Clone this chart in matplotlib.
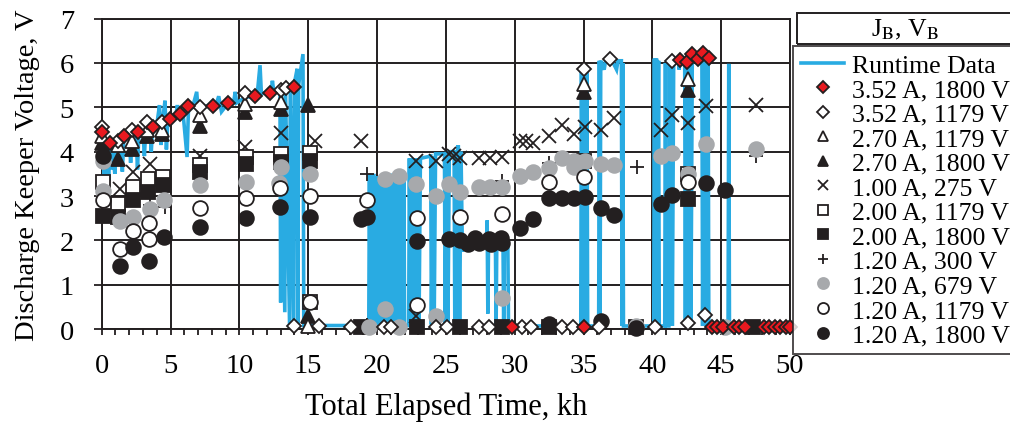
import matplotlib
matplotlib.use("Agg")
import matplotlib.pyplot as plt
from matplotlib.patches import Rectangle
from matplotlib.ticker import MultipleLocator

plt.rcParams["font.family"] = ["Liberation Serif", "DejaVu Serif"]
plt.rcParams["mathtext.fontset"] = "stix"

BLUE = "#29abe2"
RED = "#e8191f"
GRAY = "#a7a9ac"
INK = "#231f20"

# ---- runtime trace (kh, V) in pieces ----
rt_early = [
    (0.0, 4.3), (0.1, 3.4), (0.2, 4.2), (0.3, 3.3), (0.4, 4.1), (0.5, 3.35), (0.6, 4.15),
    (0.7, 3.6), (0.8, 4.05), (0.95, 3.5), (1.05, 4.1), (1.2, 4.2), (1.4, 4.25), (1.5, 3.55),
    (1.6, 4.25), (1.8, 4.3), (2.0, 4.35), (2.1, 3.75), (2.2, 4.35), (2.5, 4.4), (2.6, 3.6),
    (2.7, 4.45), (3.0, 4.45), (3.1, 3.9), (3.2, 4.5), (3.5, 4.55), (3.6, 4.0), (3.7, 4.55),
    (4.0, 4.6), (4.2, 5.05), (4.3, 4.15), (4.4, 4.65), (4.6, 5.15), (4.7, 4.05), (4.8, 4.7),
    (5.0, 4.75), (5.4, 4.85), (5.5, 5.05), (5.6, 4.85), (5.9, 4.9), (6.2, 3.88), (6.3, 4.95),
    (6.6, 5.0), (6.9, 5.35), (7.0, 4.95), (7.4, 5.0), (7.8, 5.05), (8.3, 5.05), (8.5, 5.25),
    (8.7, 4.9), (9.2, 5.1), (9.6, 5.15), (9.7, 5.35), (9.8, 5.1), (10.3, 5.2), (10.8, 5.25),
    (11.3, 5.3), (11.5, 5.95), (11.6, 5.3), (12.0, 5.35), (12.3, 5.3), (12.4, 5.6),
    (12.5, 5.35), (12.95, 5.35),
]
rt_drop = [
    (13.0, 0.6), (13.05, 5.35), (13.3, 0.38), (13.35, 5.4), (13.65, 0.05), (13.7, 5.45),
    (13.95, 0.05), (14.0, 5.55), (14.2, 5.87), (14.25, 0.05), (14.3, 5.5), (14.62, 6.2),
    (14.68, 0.08), (15.0, 0.08), (19.4, 0.08),
]
rt_mid = [
    (19.45, 3.5), (19.5, 0.1), (19.55, 3.5), (19.65, 0.1), (19.75, 3.5), (19.85, 0.1),
    (19.95, 3.45), (20.05, 0.1), (20.15, 3.45), (20.25, 0.1), (20.35, 3.45), (20.45, 0.1),
    (20.55, 3.45), (20.65, 0.1), (20.75, 3.5), (20.85, 0.1), (20.95, 3.5), (21.05, 0.1),
    (21.15, 3.5), (21.25, 0.1), (21.35, 3.5), (21.45, 0.1), (21.55, 3.5), (21.65, 0.1),
    (21.75, 3.45), (21.85, 0.1), (21.95, 3.45), (22.0, 0.08), (22.3, 0.08),
    (22.35, 3.85), (22.45, 0.1), (22.55, 3.85), (22.65, 0.1), (22.75, 3.85), (22.85, 0.1),
    (22.95, 3.85), (23.05, 0.1), (23.15, 3.85), (23.9, 3.9), (23.95, 0.1), (24.05, 3.9),
    (24.15, 0.1), (24.25, 3.95), (24.9, 3.95), (24.95, 0.1), (25.05, 4.0), (25.15, 0.1),
    (25.25, 4.0), (25.6, 4.0), (25.65, 0.1), (25.75, 4.0), (25.85, 0.1), (25.9, 4.15),
    (26.0, 0.1), (26.1, 4.0), (26.2, 1.75), (26.3, 1.9), (27.0, 1.95), (27.95, 2.0),
    (28.0, 2.45), (28.05, 0.35), (28.1, 2.0), (28.6, 1.95), (28.65, 0.05), (28.7, 2.0),
    (29.15, 2.0), (29.2, 0.05), (29.25, 1.95), (29.5, 1.95), (29.55, 0.07),
]
rt_late = [
    (34.8, 0.07), (34.85, 5.85), (34.95, 0.07), (35.05, 5.85), (35.15, 0.07), (35.25, 5.85),
    (35.3, 0.07), (36.1, 0.07), (36.15, 6.05), (36.2, 0.07), (36.25, 6.05), (36.3, 6.0),
    (36.5, 5.85), (36.6, 6.05), (37.0, 6.1), (37.4, 5.85), (37.5, 6.05), (37.75, 6.05),
    (37.8, 0.07), (37.85, 6.0), (37.9, 0.07), (40.1, 0.07), (40.15, 6.1), (40.2, 0.07),
    (40.3, 6.1), (40.35, 0.07), (40.45, 6.05), (40.5, 0.07), (40.9, 0.07), (40.95, 6.0),
    (41.0, 0.07), (41.2, 0.07), (41.25, 6.05), (41.3, 0.07), (41.4, 6.05), (41.45, 0.07),
    (41.55, 6.1), (41.9, 6.05), (41.95, 5.85), (42.0, 6.1), (42.35, 6.05), (42.4, 0.07),
    (42.45, 6.1), (42.5, 0.07), (42.6, 6.05), (42.65, 0.07), (42.75, 6.1), (42.8, 0.07),
    (42.9, 6.1), (43.0, 6.05), (43.6, 6.05), (43.65, 0.07), (43.75, 6.1), (43.8, 0.07),
    (43.9, 6.1), (43.95, 0.07), (44.05, 6.1), (44.1, 0.07), (45.5, 0.07), (45.55, 5.98),
    (45.6, 0.07), (50.0, 0.07),
]

# ---- measured points (kh, V) for each beam current / voltage ----
d352_1800 = [
    (0.0, 4.44), (0.6, 4.2), (1.6, 4.36), (2.65, 4.44), (3.74, 4.56), (4.95, 4.74),
    (5.67, 4.85), (6.25, 5.02), (8.09, 5.02), (9.17, 5.1), (11.15, 5.25), (12.2, 5.32),
    (14.0, 5.45), (29.8, 0.05), (35.0, 0.05), (42.0, 6.06), (42.5, 6.02), (42.9, 6.2),
    (43.3, 6.08), (43.7, 6.23), (44.1, 6.12), (44.3, 0.05), (44.7, 0.05), (45.1, 0.05),
    (45.9, 0.05), (46.3, 0.05), (46.7, 0.05), (48.1, 0.05), (48.5, 0.05), (48.9, 0.05),
    (49.3, 0.05), (49.7, 0.05), (50.0, 0.05),
]
d352_1179 = [
    (0.0, 4.55), (1.2, 4.23), (2.17, 4.48), (3.26, 4.68), (4.35, 4.67), (7.12, 5.0),
    (10.4, 5.33), (13.0, 5.38), (13.4, 5.43), (14.0, 0.06), (15.8, 0.06), (18.1, 0.04),
    (20.5, 0.04), (21.0, 0.04), (24.3, 0.04), (25.1, 0.04), (27.4, 0.04), (28.1, 0.04),
    (30.5, 0.04), (31.2, 0.04), (33.4, 0.04), (34.2, 0.04), (35.0, 5.87), (36.1, 0.04),
    (36.9, 6.09), (40.2, 0.04), (41.4, 6.04), (42.6, 0.14), (43.8, 0.32),
]
d270_1179 = [
    (0.0, 4.35), (1.2, 4.14), (2.17, 4.25), (3.26, 4.48), (4.35, 4.48), (7.12, 4.82),
    (10.4, 5.08), (13.0, 5.13), (15.0, 0.06), (35.0, 5.53), (42.6, 5.64),
]
d270_1800 = [
    (0.0, 4.2), (1.2, 3.84), (2.17, 4.06), (3.26, 4.36), (4.35, 4.4), (7.12, 4.59),
    (10.4, 4.89), (13.0, 4.97), (15.0, 5.06), (15.0, 0.3), (35.0, 5.34), (42.6, 5.38),
]
d100_275 = [
    (1.33, 3.16), (2.29, 3.54), (3.5, 3.72), (7.12, 3.91), (10.4, 4.1), (13.0, 4.42),
    (15.5, 4.25), (18.8, 4.25), (22.8, 3.8), (22.8, 0.3), (24.3, 3.8), (25.2, 3.95),
    (25.6, 3.9), (26.0, 3.85), (27.4, 3.85), (28.2, 3.85), (29.1, 3.87), (30.4, 4.25),
    (30.8, 4.25), (31.3, 4.2), (32.5, 4.35), (33.4, 4.6), (34.3, 4.4), (35.1, 4.55),
    (36.3, 4.5), (37.2, 4.75), (40.6, 4.48), (41.4, 4.83), (42.6, 4.65), (43.9, 5.04),
    (47.5, 5.06),
]
d200_1179 = [
    (0.12, 3.31), (1.2, 2.82), (2.29, 3.2), (3.38, 3.39), (4.46, 3.42), (7.12, 3.71),
    (10.45, 3.88), (13.0, 3.95), (15.1, 3.97), (15.1, 0.6), (35.0, 3.8), (42.6, 3.5),
]
d200_1800 = [
    (0.12, 2.56), (1.2, 2.53), (2.29, 2.9), (3.38, 3.09), (4.46, 3.24), (7.12, 3.54),
    (10.45, 3.72), (13.0, 3.76), (15.1, 3.8), (18.8, 0.04), (22.9, 0.04), (26.0, 0.04),
    (29.1, 0.04), (32.5, 0.04), (38.8, 0.04), (42.6, 2.93), (47.3, 0.04),
]
d120_300 = [
    (3.5, 2.8), (4.6, 2.75), (19.3, 3.5), (19.3, 0.1), (29.1, 3.35), (32.5, 3.75),
    (38.9, 3.65), (47.5, 3.9),
]
d120_679 = [
    (0.1, 3.8), (0.1, 3.12), (1.33, 2.44), (2.29, 2.52), (3.5, 2.71), (4.5, 2.9),
    (7.12, 3.24), (10.45, 3.31), (12.9, 3.3), (13.0, 3.65), (15.1, 3.5), (19.4, 0.04),
    (20.6, 0.45), (20.6, 3.39), (21.6, 3.46), (21.6, 0.04), (22.8, 3.27), (24.3, 3.01),
    (24.3, 0.29), (25.2, 3.27), (26.0, 3.1), (27.4, 3.2), (28.2, 3.2), (29.1, 3.2),
    (29.1, 0.69), (30.4, 3.46), (31.3, 3.54), (32.5, 3.63), (33.4, 3.85), (34.3, 3.8),
    (34.3, 3.65), (35.1, 3.8), (36.3, 3.72), (37.2, 3.69), (38.8, 0.06), (40.6, 3.91),
    (41.4, 3.97), (42.6, 3.5), (43.9, 4.18), (45.3, 0.04), (47.5, 4.06),
]
d120_1179 = [
    (0.12, 2.9), (1.33, 1.81), (2.29, 2.22), (3.45, 2.39), (3.45, 2.03), (7.12, 2.72),
    (10.45, 2.95), (12.97, 3.18), (15.1, 3.01), (15.1, 0.6), (19.3, 2.9), (22.9, 2.5),
    (22.9, 0.54), (26.0, 2.52), (29.1, 2.6), (32.5, 3.31), (35.0, 3.42), (42.6, 3.31),
]
d120_1800 = [
    (0.12, 3.91), (1.33, 1.43), (2.29, 1.84), (3.45, 1.54), (4.5, 2.07), (7.12, 2.31),
    (10.45, 2.5), (12.97, 2.75), (15.1, 2.52), (18.8, 2.48), (19.3, 2.52), (22.9, 1.99),
    (25.2, 2.03), (26.0, 2.0), (26.6, 1.92), (27.1, 2.05), (27.4, 1.95), (28.1, 2.02),
    (28.3, 1.92), (29.0, 2.05), (29.1, 1.95), (30.4, 2.28), (31.3, 2.48), (32.5, 2.96),
    (33.4, 2.96), (34.3, 2.96), (35.1, 2.97), (32.5, 0.11), (36.3, 2.72), (37.2, 2.57),
    (36.3, 0.19), (38.8, 0.03), (40.6, 2.82), (41.4, 3.02), (43.9, 3.3), (45.3, 3.14),
]

x_ticks = [0, 5, 10, 15, 20, 25, 30, 35, 40, 45, 50]
y_ticks = [0, 1, 2, 3, 4, 5, 6, 7]

# label, data, marker, size, face, edge, zorder
series = [
    ("3.52 A, 1800 V", d352_1800, "D", 7.6, RED, INK, 6),
    ("3.52 A, 1179 V", d352_1179, "D", 7.6, "white", INK, 5),
    ("2.70 A, 1179 V", d270_1179, "^", 10.5, "white", INK, 4),
    ("2.70 A, 1800 V", d270_1800, "^", 10.5, INK, INK, 3),
    ("1.00 A, 275 V", d100_275, "x", 10.0, "none", INK, 2),
    ("2.00 A, 1179 V", d200_1179, "s", 9.8, "white", INK, 3),
    ("2.00 A, 1800 V", d200_1800, "s", 9.8, INK, INK, 3.5),
    ("1.20 A, 300 V", d120_300, "+", 10.0, "none", INK, 2),
    ("1.20 A, 679 V", d120_679, "o", 10.6, GRAY, GRAY, 4.2),
    ("1.20 A, 1179 V", d120_1179, "o", 10.6, "white", INK, 4.4),
    ("1.20 A, 1800 V", d120_1800, "o", 10.6, INK, INK, 4.6),
]

fig = plt.figure(figsize=(10.1, 4.27), dpi=100)
ax = fig.add_axes([0.1007, 0.227, 0.6815, 0.727])

rt = rt_early + rt_drop + rt_mid + rt_late
runtime_line, = ax.plot([p[0] for p in rt], [p[1] for p in rt], color=BLUE, lw=2.6,
                        solid_joinstyle="miter", zorder=1.5, label="Runtime Data")

handles = [runtime_line]
for label, pts, mk, ms, fc, ec, z in series:
    h, = ax.plot([p[0] for p in pts], [p[1] for p in pts], ls="none", marker=mk,
                 ms=ms, mfc=fc, mec=ec, mew=1.3, zorder=z, clip_on=False, label=label)
    handles.append(h)

ax.set_xlim(0, 50)
ax.set_ylim(0, 7)
ax.set_xticks(x_ticks)
ax.set_yticks(y_ticks)
ax.xaxis.set_minor_locator(MultipleLocator(1))
ax.grid(True, which="major", color=INK, lw=1.4, zorder=0.5)
ax.set_axisbelow(True)
for s in ax.spines.values():
    s.set_color(INK)
    s.set_linewidth(1.4)
    s.set_zorder(0.6)
ax.tick_params(axis="x", which="both", direction="out", length=4, width=1.3,
               color=INK, labelsize=20.5, pad=13)
ax.tick_params(axis="y", direction="out", length=6, width=1.3, color=INK,
               labelsize=20.5, pad=14)
ax.set_xlabel("Total Elapsed Time, kh", fontsize=22, labelpad=10)
ax.set_ylabel("Discharge Keeper Voltage, V", fontsize=20.5, labelpad=14)

# legend with separate title box
leg = fig.legend(handles=handles, loc="upper left",
                 bbox_to_anchor=(793 / 1010, 1 - 47 / 427),
                 fontsize=18.5, frameon=True, fancybox=False, edgecolor=INK,
                 handlelength=1.7, handletextpad=0.3, labelspacing=0.06,
                 borderpad=0.3, borderaxespad=0, markerscale=0.75)
leg.get_frame().set_linewidth(1.4)
fig.patches.append(Rectangle((797 / 1010, 1 - 45 / 427), 0.3, 31 / 427,
                             transform=fig.transFigure, fill=False,
                             edgecolor=INK, lw=1.4))
fig.text(905 / 1010, 1 - 30 / 427, r"J$_{\rm B}$, V$_{\rm B}$", fontsize=18.5,
         ha="center", va="center")

fig.savefig("out.png", dpi=100)
